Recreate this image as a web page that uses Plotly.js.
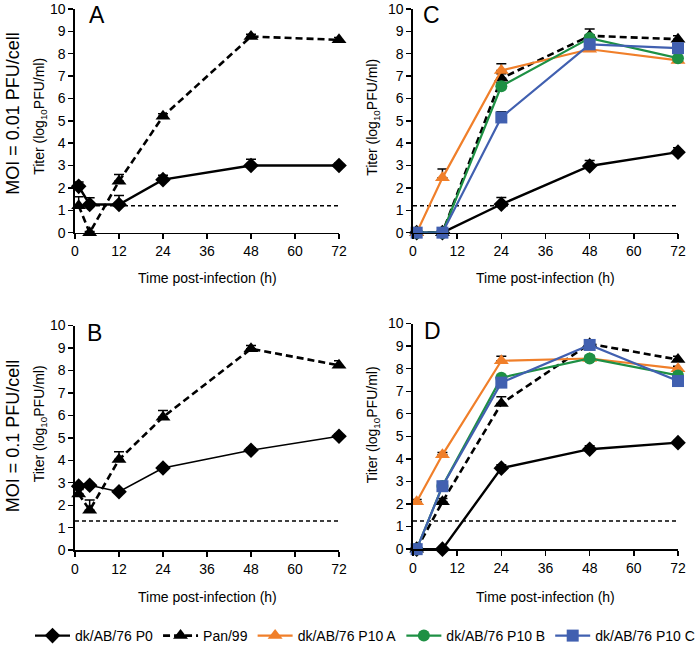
<!DOCTYPE html>
<html>
<head>
<meta charset="utf-8">
<script src="https://cdn.plot.ly/plotly-3.0.1.min.js"></script>
<style>html,body{margin:0;padding:0;background:#fff;}#chart{width:700px;height:652px;}</style>
</head>
<body>
<div id="chart"></div>
<script>
// ---- data ----
const timesAB = [1, 4, 12, 24, 48, 72];
const timesCD = [1, 8, 24, 48, 72];
const xTicks = [0, 12, 24, 36, 48, 60, 72];
const yTicks = [0, 1, 2, 3, 4, 5, 6, 7, 8, 9, 10];
const seriesNames = ["dk/AB/76 P0", "Pan/99", "dk/AB/76 P10 A", "dk/AB/76 P10 B", "dk/AB/76 P10 C"];

// Panel A: MOI 0.01
const A_P0 = [2.07, 1.26, 1.26, 2.37, 3.0, 3.0];
const A_P0_err = [0.2, 0.3, 0.4, 0.2, 0.28, 0.1];
const A_Pan = [1.2, 0.0, 2.3, 5.2, 8.77, 8.62];
const A_Pan_err = [0.4, 0.05, 0.3, 0.12, 0.1, 0.1];
const A_limit = 1.2;

// Panel B: MOI 0.1
const B_P0 = [2.85, 2.89, 2.6, 3.66, 4.45, 5.07];
const B_P0_err = [0.1, 0.08, 0.08, 0.1, 0.1, 0.1];
const B_Pan = [2.5, 1.78, 4.03, 5.92, 8.96, 8.23];
const B_Pan_err = [0.2, 0.45, 0.35, 0.3, 0.15, 0.2];
const B_limit = 1.3;

// Panel C: MOI 0.01
const C_P0 = [0, 0, 1.27, 2.98, 3.6];
const C_P0_err = [0, 0, 0.3, 0.25, 0.2];
const C_Pan = [0, 0, 6.9, 8.8, 8.65];
const C_Pan_err = [0, 0, 0.2, 0.3, 0.15];
const C_A = [0, 2.45, 7.25, 8.2, 7.7];
const C_A_err = [0, 0.4, 0.3, 0.15, 0.1];
const C_B = [0, 0, 6.55, 8.7, 7.8];
const C_B_err = [0, 0, 0.15, 0.15, 0.1];
const C_C = [0, 0, 5.15, 8.42, 8.25];
const C_C_err = [0, 0, 0.25, 0.15, 0.1];
const C_limit = 1.2;

// Panel D: MOI 0.1
const D_P0 = [0, 0, 3.59, 4.43, 4.72];
const D_P0_err = [0, 0, 0.15, 0.15, 0.1];
const D_Pan = [0, 2.1, 6.45, 9.1, 8.4];
const D_Pan_err = [0, 0.15, 0.3, 0.15, 0.15];
const D_A = [2.1, 4.18, 8.35, 8.45, 8.0];
const D_A_err = [0.1, 0.1, 0.2, 0.1, 0.1];
const D_B = [0, 2.8, 7.6, 8.45, 7.7];
const D_B_err = [0, 0.1, 0.1, 0.1, 0.1];
const D_C = [0, 2.79, 7.38, 9.05, 7.45];
const D_C_err = [0, 0.1, 0.1, 0.1, 0.1];
const D_limit = 1.25;

// ---- styles ----
const styles = [
  {color: "#000000", symbol: "diamond", size: 12, dash: "solid", width: 2.4},
  {color: "#000000", symbol: "triangle-up", size: 13, dash: "7px,4px", width: 2.6},
  {color: "#F07F2A", symbol: "triangle-up", size: 13, dash: "solid", width: 2.2},
  {color: "#1E9044", symbol: "circle", size: 12, dash: "solid", width: 2.2},
  {color: "#4160B0", symbol: "square", size: 12, dash: "solid", width: 2.2}
];

function series(idx, x, y, err, xa, ya, showLegend, lw) {
  const s = styles[idx];
  return {
    type: "scatter", mode: "lines+markers", name: seriesNames[idx],
    x: x, y: y, xaxis: xa, yaxis: ya, showlegend: showLegend, cliponaxis: false,
    line: {color: s.color, width: lw || s.width, dash: s.dash},
    marker: {color: s.color, symbol: s.symbol, size: s.size},
    error_y: {type: "data", symmetric: false, array: err, arrayminus: err.map(() => 0),
              color: "#000", thickness: 1.5, width: 5}
  };
}
function limitLine(v, xa, ya) {
  return {type: "scatter", mode: "lines", x: [0, 72], y: [v, v], xaxis: xa, yaxis: ya,
          showlegend: false, hoverinfo: "skip", line: {color: "#000", width: 1.4, dash: "4px,3px"}};
}

const traces = [
  limitLine(A_limit, "x", "y"),
  series(0, timesAB, A_P0, A_P0_err, "x", "y", false),
  series(1, timesAB, A_Pan, A_Pan_err, "x", "y", false),

  limitLine(B_limit, "x3", "y3"),
  series(0, timesAB, B_P0, B_P0_err, "x3", "y3", false, 1.6),
  series(1, timesAB, B_Pan, B_Pan_err, "x3", "y3", false),

  limitLine(C_limit, "x2", "y2"),
  series(0, timesCD, C_P0, C_P0_err, "x2", "y2", false),
  series(1, timesCD, C_Pan, C_Pan_err, "x2", "y2", false),
  series(2, timesCD, C_A, C_A_err, "x2", "y2", false),
  series(3, timesCD, C_B, C_B_err, "x2", "y2", false),
  series(4, timesCD, C_C, C_C_err, "x2", "y2", false),

  limitLine(D_limit, "x4", "y4"),
  series(0, timesCD, D_P0, D_P0_err, "x4", "y4", true),
  series(1, timesCD, D_Pan, D_Pan_err, "x4", "y4", true),
  series(2, timesCD, D_A, D_A_err, "x4", "y4", true),
  series(3, timesCD, D_B, D_B_err, "x4", "y4", true),
  series(4, timesCD, D_C, D_C_err, "x4", "y4", true)
];

const W = 700, H = 652;
function px(x) { return x / W; }
function py(y) { return 1 - y / H; }
const F = "Liberation Sans, Arial, sans-serif";

function xAxis(l, r, anchor) {
  return {domain: [px(l), px(r)], anchor: anchor, range: [0, 72], tickvals: xTicks,
          showgrid: false, zeroline: false, showline: true, linecolor: "#000", linewidth: 1.6,
          ticks: "outside", ticklen: 5, tickwidth: 1.4, tickcolor: "#000", ticklabeloverflow: "allow",
          tickfont: {family: F, size: 14, color: "#000"}};
}
function yAxis(t, b, anchor) {
  return {domain: [py(b), py(t)], anchor: anchor, range: [0, 10], tickvals: yTicks,
          showgrid: false, zeroline: false, showline: true, linecolor: "#000", linewidth: 1.6,
          ticks: "outside", ticklen: 5, tickwidth: 1.4, tickcolor: "#000", ticklabeloverflow: "allow",
          tickfont: {family: F, size: 14, color: "#000"}};
}

function ann(text, x, y, size, angle) {
  return {text: text, xref: "paper", yref: "paper", x: px(x), y: py(y), xanchor: "center", yanchor: "middle",
          showarrow: false, textangle: angle || 0, font: {family: F, size: size, color: "#000"}};
}
const ytitle = "Titer (log<sub>10</sub>PFU/ml)";
const xtitle = "Time post-infection (h)";

const layout = {
  width: W, height: H, margin: {l: 0, r: 0, t: 0, b: 0},
  paper_bgcolor: "#fff", plot_bgcolor: "#fff", font: {family: F, color: "#000"},
  xaxis: xAxis(75, 339, "y"), yaxis: yAxis(9, 233, "x"),
  xaxis2: xAxis(413, 678, "y2"), yaxis2: yAxis(9, 233, "x2"),
  xaxis3: xAxis(75, 339, "y3"), yaxis3: yAxis(326, 551, "x3"),
  xaxis4: xAxis(413, 678, "y4"), yaxis4: yAxis(324, 550, "x4"),
  showlegend: true,
  legend: {orientation: "h", x: px(50), y: py(637), xanchor: "left", yanchor: "middle", itemwidth: 35,
           font: {family: F, size: 14, color: "#000"}, bgcolor: "rgba(0,0,0,0)", tracegroupgap: 0},
  annotations: [
    ann("A", 97, 15, 23), ann("C", 431, 15, 23), ann("B", 95, 334, 23), ann("D", 432, 332, 23),
    ann(xtitle, 207, 278, 14), ann(xtitle, 545, 278, 14),
    ann(xtitle, 207, 598, 14), ann(xtitle, 545, 598, 14),
    ann(ytitle, 40, 117, 14, -90), ann(ytitle, 373, 117, 14, -90),
    ann(ytitle, 40, 425, 14, -90), ann(ytitle, 373, 425, 14, -90),
    ann("MOI = 0.01 PFU/cell", 13, 114, 18, -90),
    ann("MOI = 0.1 PFU/cell", 13, 437, 18, -90)
  ]
};

Plotly.newPlot("chart", traces, layout, {displayModeBar: false, staticPlot: true});
</script>
</body>
</html>
